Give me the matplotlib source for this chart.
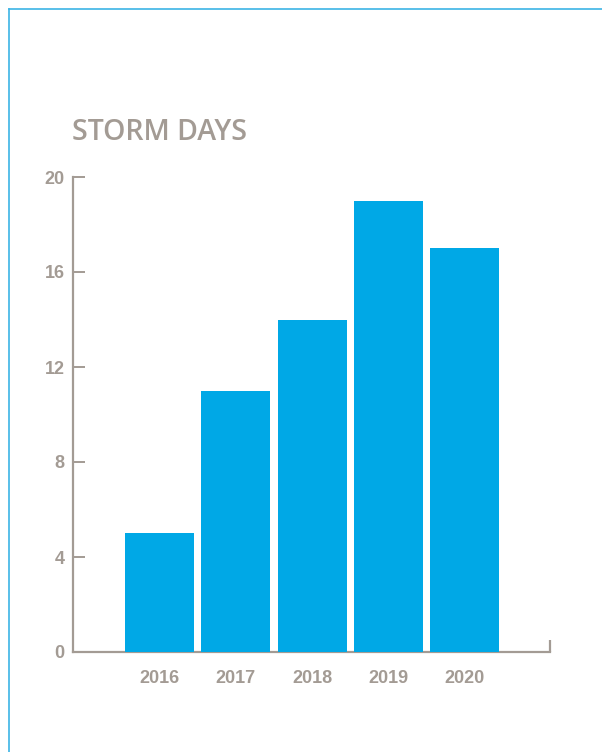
import matplotlib.pyplot as plt
from matplotlib.lines import Line2D

years = ["2016", "2017", "2018", "2019", "2020"]
storm_days = [5, 11, 14, 19, 17]

gray = "#a39b94"
blue = "#00a8e6"

fig = plt.figure(figsize=(6.02, 7.52), dpi=100)
ax = fig.add_axes([73/602, 1-652/752, 477/602, 475/752])

x = list(range(len(years)))
ax.bar(x, storm_days, width=0.905, color=blue, zorder=1)

ax.set_xlim(-1.134, 5.118)
ax.set_ylim(0, 20)
ax.set_yticks([0, 4, 8, 12, 16, 20])
ax.set_xticks(x)
ax.set_xticklabels(years)

for s in ["top", "right"]:
    ax.spines[s].set_visible(False)
for s in ["left", "bottom"]:
    ax.spines[s].set_color(gray)
    ax.spines[s].set_linewidth(1.6)
    ax.spines[s].set_zorder(0)

ax.tick_params(axis="y", direction="in", length=8.5, width=1.4, color=gray,
               labelcolor=gray, labelsize=13, pad=6)
ax.tick_params(axis="x", length=0, labelcolor=gray, labelsize=13, pad=13)
for lab in ax.get_xticklabels() + ax.get_yticklabels():
    lab.set_fontfamily("Liberation Sans")
    lab.set_fontweight("bold")

# small upward tick at the right end of the x axis
ax.plot([1, 1], [0, 12/475], transform=ax.transAxes, color=gray,
        lw=1.6, clip_on=False, solid_capstyle="butt")

fig.text(72/602, 1-133/752, "STORM DAYS", color=gray, fontsize=20.5,
         family="Open Sans", weight="semibold", va="center", ha="left")

# light blue frame on top and left
fig.add_artist(Line2D([9/602, 9/602], [0, 1-9/752], color="#3cb4e5", lw=1.2,
                      transform=fig.transFigure))
fig.add_artist(Line2D([9/602, 1], [1-9/752, 1-9/752], color="#3cb4e5", lw=1.2,
                      transform=fig.transFigure))

fig.savefig("out.png", dpi=100)
